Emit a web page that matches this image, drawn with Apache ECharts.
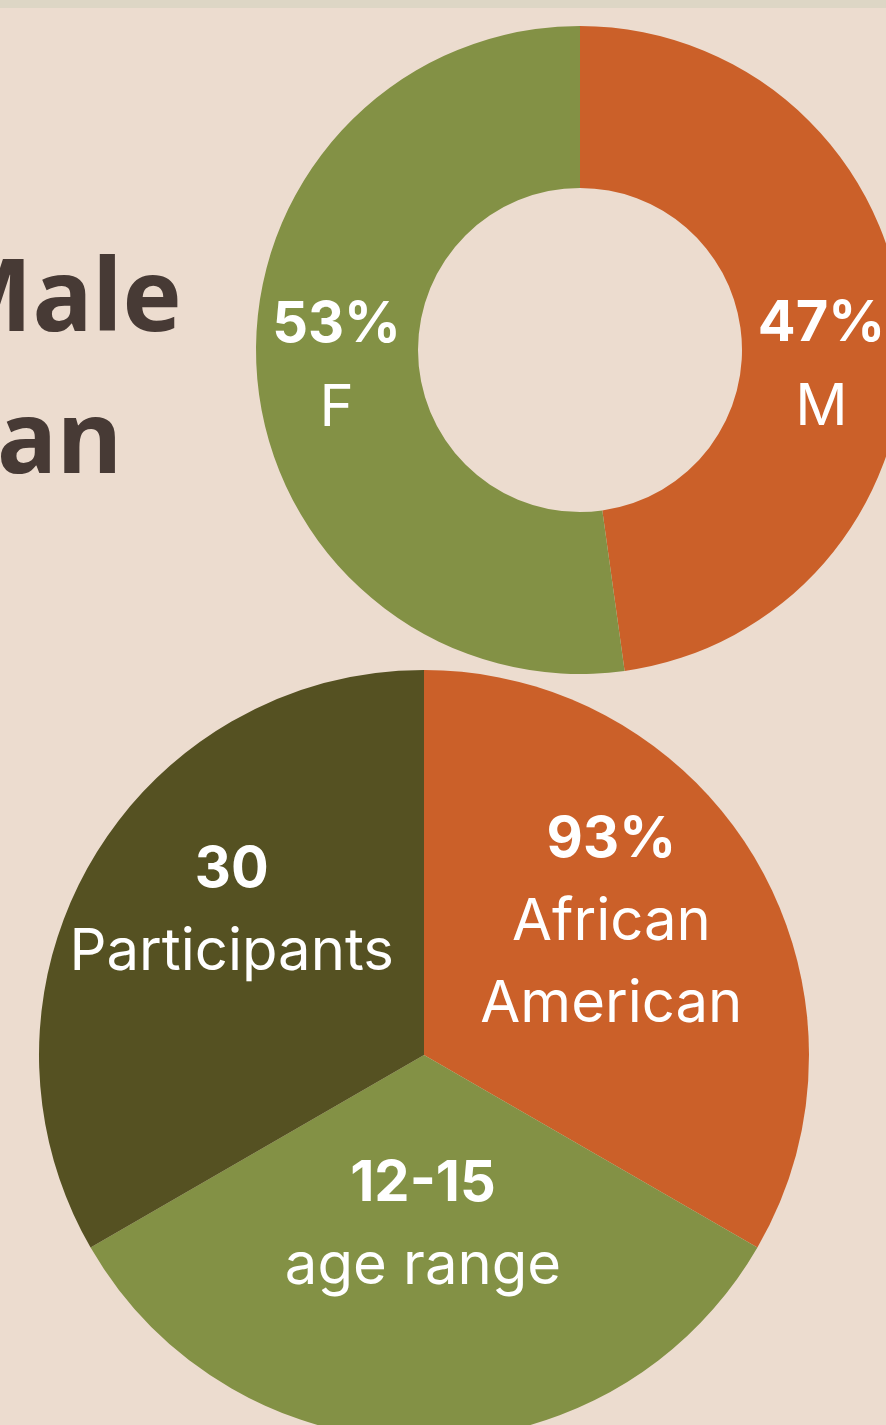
<!DOCTYPE html>
<html>
<head>
<meta charset="utf-8">
<script src="https://cdn.jsdelivr.net/npm/echarts@6/dist/echarts.min.js"></script>
<style>
  html, body { margin: 0; padding: 0; background: #ecdccf; }
  #chart { width: 886px; height: 1425px; }
</style>
</head>
<body>
<div id="chart"></div>
<script>
// gender split (ring)
const genderNames = ['M', 'F']
const genderShares = [47.8, 52.2]
const genderLabels = ['47%', '53%']

// participant facts (full pie, three equal wedges)
const factWeights = [1, 1, 1]
const factTitles = ['93%', '12-15', '30']
const factLines = [['African', 'American'], ['age range'], ['Participants']]

const titleLines = ['Male', 'American']

const ORANGE = '#cb6029'
const GREEN = '#839145'
const OLIVE = '#555122'
const FONT = 'Inter, "Noto Sans", sans-serif'
const TITLE_FONT = '"Noto Sans", "Open Sans", sans-serif'

const chart = echarts.init(document.getElementById('chart'), null, { renderer: 'canvas' })

const ringOffsets = [[-4, 33], [2, 0]]
const pieOffsets = [[18, -35], [-1, -25], [-23, -46]]

const option = {
    backgroundColor: '#ecdccf',
    animation: false,
    graphic: [
        { type: 'rect', left: 0, top: 0, shape: { width: 886, height: 8 }, style: { fill: '#ddd6c5' } },
        {
            type: 'text', x: 182, y: 353,
            style: { text: titleLines[0], fill: '#473a35', font: 'bold 100px ' + TITLE_FONT, textAlign: 'right', textVerticalAlign: 'bottom' }
        },
        {
            type: 'text', x: 122, y: 495,
            style: { text: titleLines[1], fill: '#473a35', font: 'bold 100px ' + TITLE_FONT, textAlign: 'right', textVerticalAlign: 'bottom' }
        }
    ],
    series: [
        {
            type: 'pie',
            center: [580, 350],
            radius: [162, 324],
            startAngle: 90,
            clockwise: true,
            silent: true,
            avoidLabelOverlap: false,
            labelLine: { show: false },
            emphasis: { disabled: true },
            data: genderNames.map((n, i) => ({
                name: n,
                value: genderShares[i],
                itemStyle: { color: [ORANGE, GREEN][i] },
                label: {
                    show: true,
                    position: 'inside',
                    offset: ringOffsets[i],
                    formatter: '{b|' + genderLabels[i] + '}\n{n|' + n + '}',
                    rich: {
                        b: { fontFamily: FONT, fontWeight: 'bold', fontSize: 56, color: '#fff', lineHeight: 83, align: 'center' },
                        n: { fontFamily: FONT, fontSize: 58, color: '#fff', lineHeight: 83, align: 'center' }
                    }
                }
            }))
        },
        {
            type: 'pie',
            center: [424, 1055],
            radius: [0, 385],
            startAngle: 90,
            clockwise: true,
            silent: true,
            avoidLabelOverlap: false,
            labelLine: { show: false },
            emphasis: { disabled: true },
            data: factWeights.map((w, i) => ({
                name: factTitles[i],
                value: w,
                itemStyle: { color: [ORANGE, GREEN, OLIVE][i] },
                label: {
                    show: true,
                    position: 'inside',
                    offset: pieOffsets[i],
                    formatter: ['{b|' + factTitles[i] + '}'].concat(factLines[i].map(t => '{n|' + t + '}')).join('\n'),
                    rich: {
                        b: { fontFamily: FONT, fontWeight: 'bold', fontSize: 56, color: '#fff', lineHeight: 82, align: 'center' },
                        n: { fontFamily: FONT, fontSize: 58, color: '#fff', lineHeight: 82, align: 'center' }
                    }
                }
            }))
        }
    ]
}

chart.setOption(option)
</script>
</body>
</html>
